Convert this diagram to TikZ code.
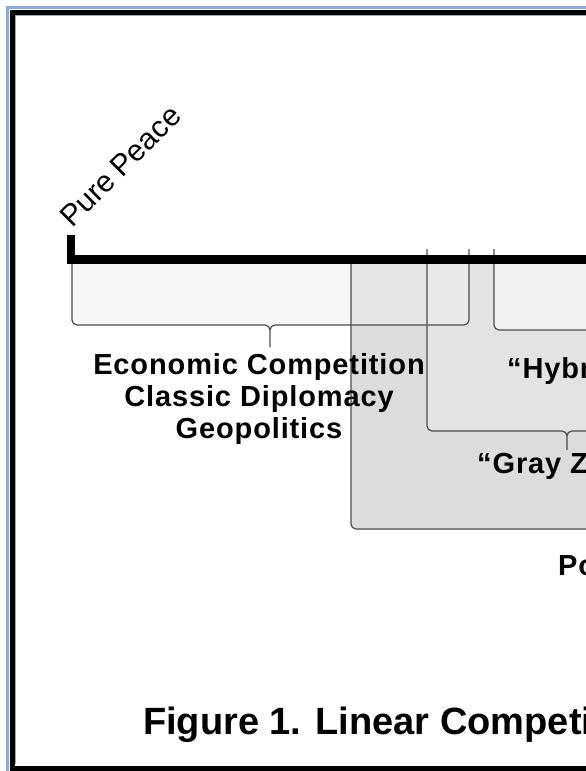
\documentclass[tikz,border=0pt]{standalone}
\usepackage{fontspec}
\setmainfont{Liberation Sans}
\definecolor{frameblue}{RGB}{143,170,214}
\definecolor{polgray}{RGB}{220,220,220}
\definecolor{zonegray}{RGB}{227,227,227}
\definecolor{hybgray}{RGB}{242,242,242}
\definecolor{ecogray}{RGB}{239,239,239}
\newcommand{\lblfont}{\fontsize{29}{32}\selectfont}

\begin{document}
\begin{tikzpicture}[x=1pt,y=-1pt]
\tikzstyle{brk}=[draw=black!70,line width=1.2pt,rounded corners=5pt]
\tikzstyle{lbl}=[inner sep=0pt,font=\lblfont\bfseries\addfontfeature{LetterSpace=3}]
\useasboundingbox (0,0) rectangle (586,771);
\clip (0,0) rectangle (586,771);
% frame
\draw[frameblue,line width=3pt] (7.5,7.5) rectangle (640,820);
\draw[line width=5pt] (12,12) rectangle (640,768);
\draw[black!35,line width=0.8pt] (15.5,764) |- (640,15.5);
% shaded spans
\fill[polgray,rounded corners=5pt] (351,259) -- (351,529) -- (640,529) -- (640,259) -- cycle;
\fill[zonegray,rounded corners=5pt] (427,259) -- (427,431) -- (640,431) -- (640,259) -- cycle;
\fill[hybgray,rounded corners=5pt] (494,259) -- (494,330) -- (640,330) -- (640,259) -- cycle;
\fill[ecogray,fill opacity=0.5,rounded corners=5pt] (72,259) -- (72,325) -- (469,325) -- (469,259) -- cycle;
% brackets
\draw[brk] (351,264) -- (351,529) -- (640,529);
\draw[brk] (427,249) -- (427,431) -- (567,431) -- (567,450) (567,450) -- (567,431) -- (640,431);
\draw[brk] (494,249) -- (494,330) -- (640,330);
\draw[brk] (469,249) -- (469,325) -- (270,325) -- (270,347) (270,347) -- (270,325) -- (72,325) -- (72,264);
% axis
\draw[line width=8.5pt] (71,235) |- (640,259.5);
% labels
\node[inner sep=0pt,font=\fontsize{30}{32}\selectfont,rotate=45,anchor=base west] (peace) at (72,229) {Pure Peace};
\node[lbl,anchor=north,align=center] (eco) at (259,353) {Economic Competition\\Classic Diplomacy\\Geopolitics};
\node[lbl,anchor=base west] (hyb) at (507,378) {“Hybr};
\node[lbl,anchor=base west] (zone) at (477,473) {“Gray Z};
\node[lbl,anchor=base west] (pol) at (558,575) {Po};
\node[inner sep=0pt,font=\fontsize{38}{44}\selectfont\bfseries,anchor=base west] (title) at (143,734) {Figure 1. Linear Competiti};
\end{tikzpicture}
\end{document}
